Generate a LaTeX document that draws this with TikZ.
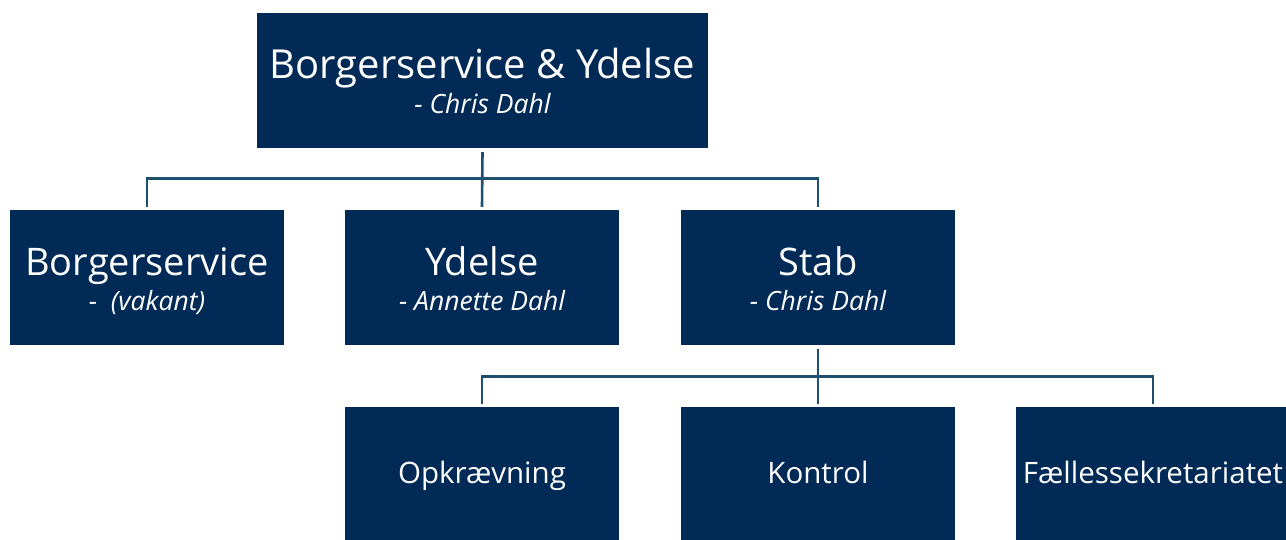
\documentclass[tikz,border=0pt]{standalone}
\usepackage{fontspec}
\setmainfont{Open Sans}
\usetikzlibrary{calc}
\definecolor{navy}{HTML}{012A56}
\definecolor{linec}{HTML}{1F4F6E}
\begin{document}
\begin{tikzpicture}[x=1pt,y=-1pt,
  box/.style={fill=navy, draw=none, inner sep=0pt, minimum width=274pt, minimum height=135pt},
  toptext/.style={text=white, anchor=base, inner sep=0pt, font=\fontsize{40}{44}\selectfont},
  bigtext/.style={text=white, anchor=base, inner sep=0pt, font=\fontsize{38}{42}\selectfont},
  subtext/.style={text=white, anchor=base, inner sep=0pt, font=\fontsize{26.5}{30}\selectfont\itshape},
  midtext/.style={text=white, anchor=base, inner sep=0pt, font=\fontsize{29.5}{33}\selectfont},
  conn/.style={draw=linec, line width=2.6pt}]
\useasboundingbox (0,0) rectangle (1286,539);
\clip (0,0) rectangle (1286,539);
% boxes
\node[box, minimum width=451pt] (top) at (482.5,80.5) {};
\node[box] (bs) at (147,277.5) {};
\node[box] (yd) at (482,277.5) {};
\node[box] (st) at (818,277.5) {};
\node[box] (op) at (482,474.5) {};
\node[box] (ko) at (818,474.5) {};
\node[box] (fa) at (1153,474.5) {};
% texts
\node[toptext] (topT) at (482.5,78) {Borgerservice \& Ydelse};
\node[subtext] (topS) at (482.5,113) {- Chris Dahl};
\node[bigtext] (bsT) at (147,275) {Borgerservice};
\node[subtext] (bsS) at (147,310) {-\ \ (vakant)};
\node[bigtext] (ydT) at (482,275) {Ydelse};
\node[subtext] (ydS) at (482,310) {- Annette Dahl};
\node[bigtext] (stT) at (818,275) {Stab};
\node[subtext] (stS) at (818,310) {- Chris Dahl};
\node[midtext] (opT) at (482,483.5) {Opkrævning};
\node[midtext] (koT) at (818,483.5) {Kontrol};
\node[midtext] (faT) at (1153,483.5) {Fællessekretariatet};
% connectors
\coordinate (j1) at ($(top.south)+(0,30)$);
\draw[conn] ([yshift=-4pt]top.south) -- ([yshift=3pt]yd.north);
\draw[conn] ([yshift=3pt]bs.north) |- (j1) -| ([yshift=3pt]st.north);
\coordinate (j2) at ($(st.south)+(0,31)$);
\draw[conn] ([yshift=-4pt]st.south) -- ([yshift=3pt]ko.north);
\draw[conn] ([yshift=3pt]op.north) |- (j2) -| ([yshift=3pt]fa.north);
\end{tikzpicture}
\end{document}
